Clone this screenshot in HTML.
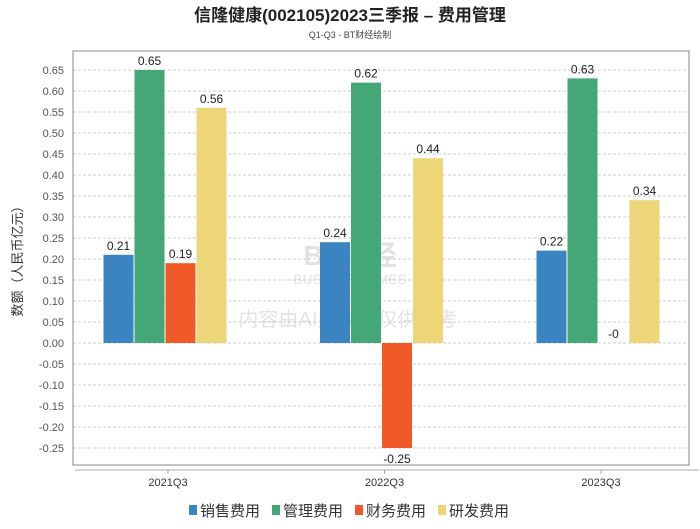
<!DOCTYPE html>
<html><head><meta charset="utf-8"><style>
body{margin:0;background:#fff;width:700px;height:524px;overflow:hidden;font-family:"Liberation Sans","Noto Sans CJK SC",sans-serif}
</style></head><body>
<svg id="c" width="700" height="524" xmlns="http://www.w3.org/2000/svg" font-family="Liberation Sans, Noto Sans CJK SC, sans-serif">
<text x="350" y="21" text-anchor="middle" font-size="17" font-weight="bold" fill="#222">信隆健康(002105)2023三季报 – 费用管理</text>
<text x="350" y="38" text-anchor="middle" font-size="9" fill="#444">Q1-Q3 - BT财经绘制</text>
<text transform="translate(22,258) rotate(-90)" text-anchor="middle" font-size="13" fill="#333">数额（人民币亿元）</text>
<g opacity="0.11">
<text x="350" y="265" text-anchor="middle" font-size="28" font-weight="bold" fill="#000">BT财经</text>
<text x="350" y="284" text-anchor="middle" font-size="14" fill="#000">BUSINESSTIMES</text>
<text x="348" y="326" text-anchor="middle" font-size="20" fill="#000">内容由AI生成，仅供参考</text>
</g>
<g id="grid"></g><g id="bars"></g>
<rect x="73" y="51" width="616" height="414" fill="none" stroke="#888"/>
<line x1="75" y1="470" x2="699" y2="470" stroke="#aaa"/>
<g id="legend" font-size="14" fill="#333"></g>
</svg>
<script>
const categories=["2021Q3","2022Q3","2023Q3"];
const seriesNames=["销售费用","管理费用","财务费用","研发费用"];
const colors=["#3a84c1","#44a776","#ef5a28","#ecd678"];
const sales=[0.21,0.24,0.22];
const admin=[0.65,0.62,0.63];
const finance=[0.19,-0.25,0];
const rnd=[0.56,0.44,0.34];
const labels=[["0.21","0.24","0.22"],["0.65","0.62","0.63"],["0.19","-0.25","-0"],["0.56","0.44","0.34"]];
const yTicks=[0.65,0.6,0.55,0.5,0.45,0.4,0.35,0.3,0.25,0.2,0.15,0.1,0.05,0,-0.05,-0.1,-0.15,-0.2,-0.25];
const series=[sales,admin,finance,rnd];
const NS="http://www.w3.org/2000/svg";
const y=v=>343-v*420;
const xc=i=>168+i*216.5;
function mk(t,a,p){const e=document.createElementNS(NS,t);for(const k in a)e.setAttribute(k,a[k]);p.appendChild(e);return e;}
const grid=document.getElementById('grid');
yTicks.forEach(v=>{
 const l=mk('line',{x1:73,x2:689,y1:y(v),y2:y(v),stroke:'#ccc','stroke-dasharray':'3,2'},grid);
 
 
 const t=mk('text',{x:64,y:y(v)+4,'text-anchor':'end','font-size':11,fill:'#555'},grid);
 t.textContent=v.toFixed(2);
 
 
});
categories.forEach((c,i)=>{
 mk('line',{x1:xc(i),x2:xc(i),y1:470,y2:474,stroke:'#aaa'},grid);
 const t=mk('text',{x:xc(i),y:486,'text-anchor':'middle','font-size':11,fill:'#333'},grid);
 t.textContent=c;
 
 
});
const bars=document.getElementById('bars');
series.forEach((s,k)=>{
 s.forEach((v,i)=>{
  const cx=xc(i)-3+(k-1.5)*31;
  const top=Math.min(y(v),y(0)),h=Math.abs(y(v)-y(0));
  const r=mk('rect',{x:cx-15,y:top,width:30,height:h,fill:colors[k]},bars);
  
  
  const t=mk('text',{x:cx,y:v>=0?y(v)-5:y(v)+15,'text-anchor':'middle','font-size':12,fill:'#222'},bars);
  t.textContent=labels[k][i];
  
  
 });
});
const lg=document.getElementById('legend');
let lx=189;
seriesNames.forEach((n,k)=>{
 const g=mk('g',{},lg);
 
 
 mk('rect',{x:lx,y:505,width:8,height:10,fill:colors[k]},g);
 const t=mk('text',{x:lx+11,y:516,'font-size':15,fill:'#333'},g);
 t.textContent=n;
 lx+=83;
});
</script>
</body></html>
